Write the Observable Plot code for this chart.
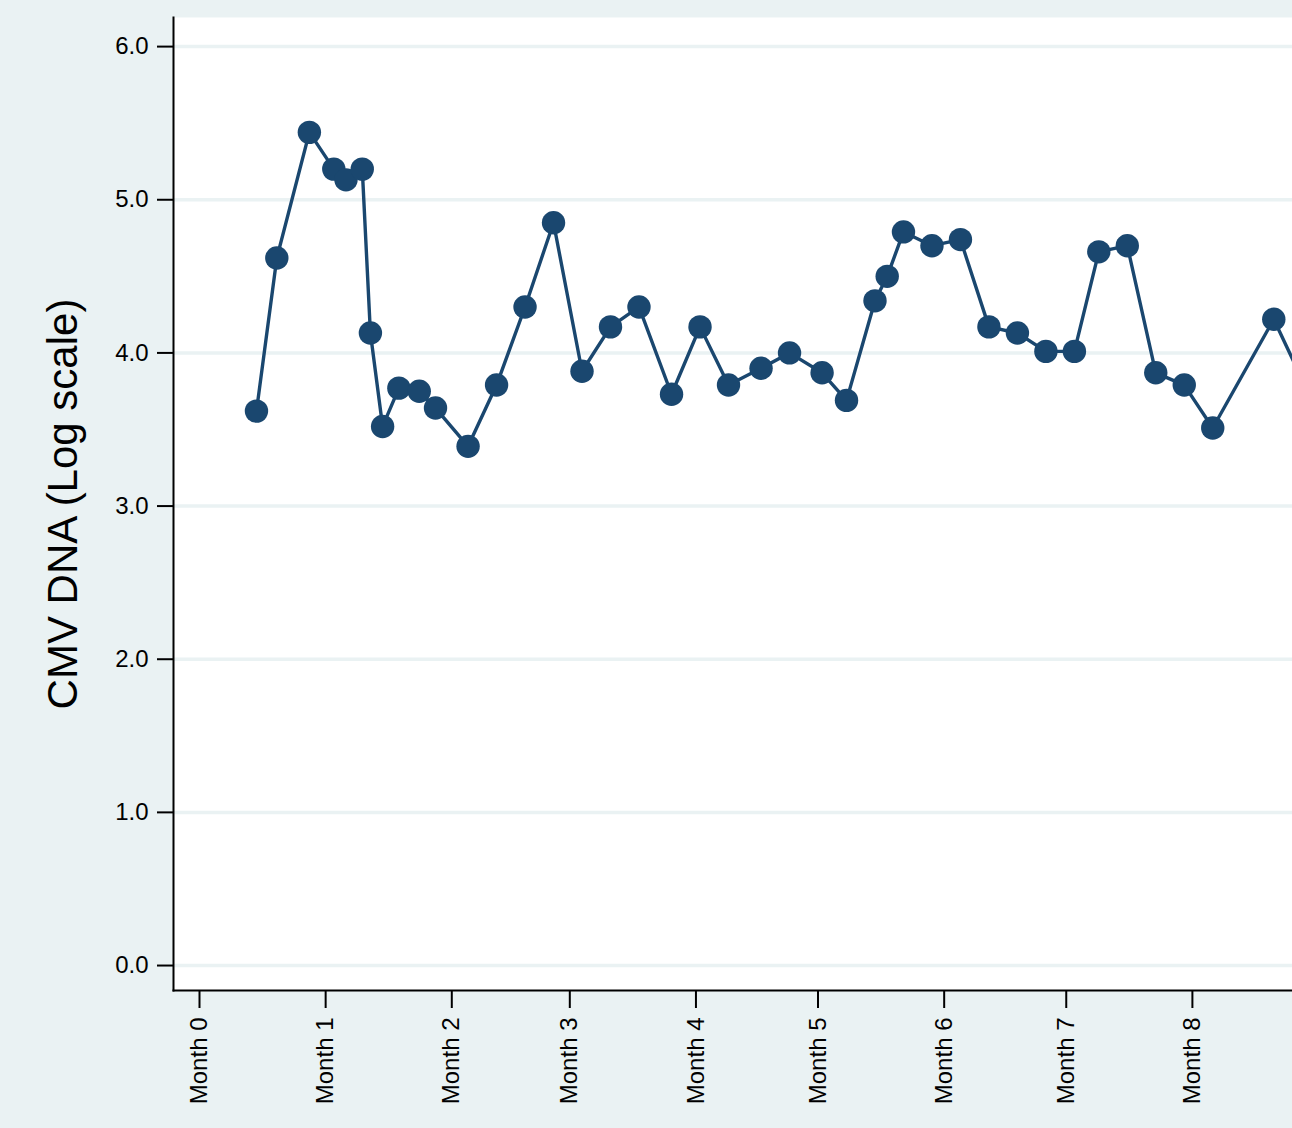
<!DOCTYPE html>
<html>
<head>
<meta charset="utf-8">
<script src="https://cdn.jsdelivr.net/npm/d3@7"></script>
<script src="https://cdn.jsdelivr.net/npm/@observablehq/plot@0.6"></script>
<style>
  html, body { margin: 0; padding: 0; background: #eaf2f3; }
  #chart svg { display: block; }
</style>
</head>
<body>
<div id="chart"></div>
<script>
// Days since start of observation
const days = [14, 19, 27, 33, 36, 40, 42, 45, 49, 54, 58, 66, 73, 80, 87, 94, 101, 108, 116, 123,
              130, 138, 145, 153, 159, 166, 169, 173, 180, 187, 194, 201, 208, 215, 221, 228, 235, 242, 249, 264, 278];
// CMV DNA (log10 copies)
const values = [3.62, 4.62, 5.44, 5.20, 5.13, 5.20, 4.13, 3.52, 3.77, 3.75, 3.64, 3.39, 3.79, 4.30, 4.85, 3.88, 4.17, 4.30, 3.73, 4.17,
                3.79, 3.90, 4.00, 3.87, 3.69, 4.34, 4.50, 4.79, 4.70, 4.74, 4.17, 4.13, 4.01, 4.01, 4.66, 4.70, 3.87, 3.79, 3.51, 4.22, 3.43];
const monthDays = [0, 31, 62, 91, 122, 152, 183, 213, 244];
const monthLabels = ["Month 0", "Month 1", "Month 2", "Month 3", "Month 4", "Month 5", "Month 6", "Month 7", "Month 8"];
const yTicks = [0, 1, 2, 3, 4, 5, 6];
const yTitle = "CMV DNA (Log scale)";

const data = days.map((d, i) => ({day: d, value: values[i]}));
const labelByDay = new Map(monthDays.map((d, i) => [d, monthLabels[i]]));

const navy = "#1a476f";
const bg = "#eaf2f3";

const chart = Plot.plot({
  width: 1292,
  height: 1128,
  marginLeft: 173,
  marginRight: 0,
  marginTop: 17,
  marginBottom: 138,
  style: {background: bg, fontFamily: "'Liberation Sans', Arial, Helvetica, sans-serif", color: "black"},
  x: {domain: [-6.39, 268.6], type: "linear"},
  y: {domain: [-0.163, 6.19]},
  marks: [
    Plot.frame({fill: "white", stroke: null}),
    Plot.ruleY(yTicks, {stroke: bg, strokeWidth: 3.5}),
    Plot.line(data, {x: "day", y: "value", stroke: navy, strokeWidth: 3.4, clip: true}),
    Plot.dot(data, {x: "day", y: "value", r: 11.7, fill: navy, stroke: null, clip: true}),
    Plot.frame({anchor: "left", stroke: "black", strokeWidth: 2}),
    Plot.frame({anchor: "bottom", stroke: "black", strokeWidth: 2}),
    Plot.axisY({ticks: yTicks, tickFormat: d3.format(".1f"), tickSize: 16, tickPadding: 9,
                fontSize: 24, strokeWidth: 2, label: null}),
    Plot.axisX({ticks: monthDays, tickFormat: d => labelByDay.get(d), tickRotate: -90,
                tickSize: 18, tickPadding: 9, fontSize: 24, strokeWidth: 2, label: null}),
    Plot.text([yTitle], {frameAnchor: "left", textAnchor: "middle", lineAnchor: "middle", rotate: -90,
                         dx: -110, fontSize: 42, fill: "black"})
  ]
});
document.getElementById("chart").appendChild(chart);
</script>
</body>
</html>
